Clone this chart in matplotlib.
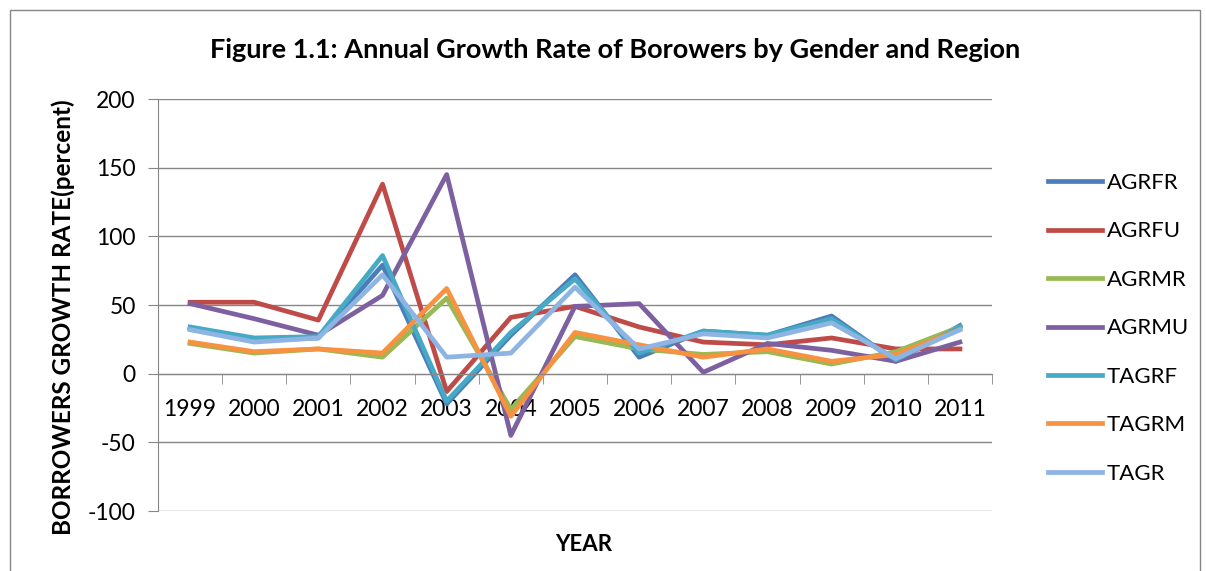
import matplotlib.pyplot as plt
from matplotlib.patches import Rectangle

# ----------------------------------------------------
# Data
# ----------------------------------------------------
years = ["1999", "2000", "2001", "2002", "2003", "2004", "2005",
         "2006", "2007", "2008", "2009", "2010", "2011"]

agrfr = [33, 24, 26, 79, -22, 28, 72, 12, 31, 28, 42, 9, 35]
agrfu = [52, 52, 39, 138, -13, 41, 49, 34, 23, 21, 26, 18, 18]
agrmr = [22, 15, 18, 12, 55, -26, 27, 18, 14, 16, 7, 16, 34]
agrmu = [51, 40, 28, 57, 145, -45, 49, 51, 1, 22, 17, 9, 23]
tagrf = [34, 26, 27, 86, -20, 30, 69, 15, 31, 28, 40, 10, 34]
tagrm = [23, 16, 18, 15, 62, -31, 30, 21, 12, 18, 9, 14, 32]
tagr = [32, 23, 26, 72, 12, 15, 63, 18, 29, 26, 37, 11, 32]

series = {
    "AGRFR": (agrfr, "#4A7EBB"),
    "AGRFU": (agrfu, "#BE4B48"),
    "AGRMR": (agrmr, "#98B954"),
    "AGRMU": (agrmu, "#7D60A0"),
    "TAGRF": (tagrf, "#46AAC5"),
    "TAGRM": (tagrm, "#F69240"),
    "TAGR": (tagr, "#8EB4E3"),
}

plt.rcParams["font.family"] = ["Lato", "DejaVu Sans"]
plt.rcParams["axes.unicode_minus"] = False

fig = plt.figure(figsize=(12.06, 5.71), dpi=100)
fig.patches.append(Rectangle((10 / 1206, -0.01), 1190 / 1206, 1 - 10 / 571 + 0.01,
                             transform=fig.transFigure, fill=False,
                             edgecolor="#868686", linewidth=1))

ax = fig.add_axes([158 / 1206, 1 - 511 / 571, 834 / 1206, 412 / 571])

x = list(range(len(years)))
for name, (vals, color) in series.items():
    ax.plot(x, vals, color=color, linewidth=3.4, label=name)

ax.set_xlim(-0.5, len(years) - 0.5)
ax.set_ylim(-100, 200)
ax.set_yticks(range(-100, 201, 50))
ax.yaxis.grid(True, color="#868686", linewidth=1)
ax.set_axisbelow(True)

# category axis crossing at zero, tick marks between categories
ax.spines["bottom"].set_position(("data", 0))
ax.spines["bottom"].set_color("#868686")
ax.spines["left"].set_color("#868686")
ax.spines["top"].set_visible(False)
ax.spines["right"].set_visible(False)
ax.set_xticks(x)
ax.set_xticklabels(years)
ax.set_xticks([i - 0.5 for i in range(len(years) + 1)], minor=True)
ax.tick_params(axis="x", which="major", length=0, pad=18, labelsize=16.5)
ax.tick_params(axis="x", which="minor", length=7, color="#868686")
ax.tick_params(axis="y", length=7, color="#868686", labelsize=16.5, pad=9)

ax.set_xlabel("YEAR", fontsize=16, fontweight="bold", labelpad=0)
ax.xaxis.set_label_coords(0.51, -0.055)
ax.set_ylabel("BORROWERS GROWTH RATE(percent)", fontsize=17.5, fontweight="bold")
ax.yaxis.set_label_coords(-0.1, 0.47)

fig.text(615 / 1206, 1 - 50 / 571, "Figure 1.1: Annual Growth Rate of Borowers by Gender and Region",
         ha="center", va="center", fontsize=19.5, fontweight="bold")

fig.legend(loc="upper left", bbox_to_anchor=(1028 / 1206, 1 - 153 / 571),
           frameon=False, fontsize=16, labelspacing=1.28, handlelength=2.45,
           handletextpad=0.2)

fig.savefig("out.png", dpi=100)
